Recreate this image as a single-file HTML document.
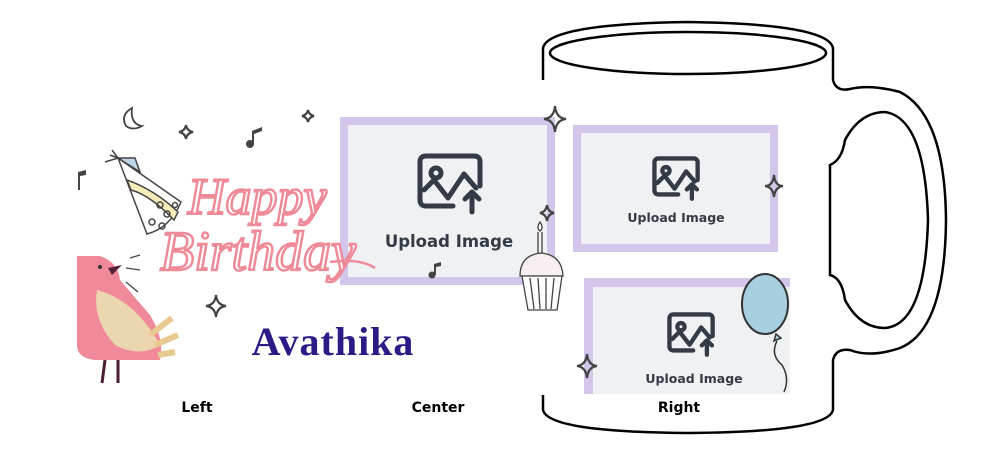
<!DOCTYPE html>
<html><head><meta charset="utf-8"><style>
html,body{margin:0;padding:0;background:#fff;width:1000px;height:457px;overflow:hidden}
svg{display:block}
</style></head><body>
<svg width="1000" height="457" viewBox="0 0 1000 457" xmlns="http://www.w3.org/2000/svg">
<g fill="none" stroke="#000" stroke-width="2.5">
<path d="M543,80 L543,48 Q548,24 688,22 Q828,24 833,48 L833,80 Q836,92 850,89 Q870,84 900,92 Q945,115 946,220 Q945,330 900,348 Q870,358 850,350 Q836,348 833,360 L833,410 Q828,432 688,433 Q548,432 543,410 L543,395"/>
<ellipse cx="688" cy="53" rx="138" ry="21"/>
<path d="M830,165 Q842,160 845,140 Q860,112 885,112 Q925,118 928,220 Q925,325 885,328 Q860,328 845,300 Q842,278 830,275 Z"/>
</g>
<rect x="344" y="121" width="207" height="160" fill="#eff1f3" stroke="#d4c5ea" stroke-width="8"/>
<rect x="577" y="129" width="197" height="119" fill="#eff1f3" stroke="#d4c5ea" stroke-width="8"/>
<rect x="584" y="278" width="206" height="116" fill="#d4c5ea"/>
<rect x="593" y="287" width="197" height="107" fill="#eff1f3"/>
<g fill="none" stroke="#343a46" stroke-width="5" stroke-linecap="round" stroke-linejoin="round">
<g transform="translate(418,154)">
<path d="M35,52 H8 Q2,52 2,46 V8 Q2,2 8,2 H56 Q62,2 62,8 V32"/>
<circle cx="18" cy="19" r="5"/>
<path d="M6,36 L16,26 L30,44 L46,20 L58,34 M54,58 V38 M47,45 L54,38 L61,45"/>
</g>
<g transform="translate(653,157) scale(0.72)" stroke-width="6">
<path d="M35,52 H8 Q2,52 2,46 V8 Q2,2 8,2 H56 Q62,2 62,8 V32"/>
<circle cx="18" cy="19" r="5"/>
<path d="M6,36 L16,26 L30,44 L46,20 L58,34 M54,58 V38 M47,45 L54,38 L61,45"/>
</g>
<g transform="translate(668,313) scale(0.72)" stroke-width="6">
<path d="M35,52 H8 Q2,52 2,46 V8 Q2,2 8,2 H56 Q62,2 62,8 V32"/>
<circle cx="18" cy="19" r="5"/>
<path d="M6,36 L16,26 L30,44 L46,20 L58,34 M54,58 V38 M47,45 L54,38 L61,45"/>
</g>
</g>
<g font-family="DejaVu Sans, Liberation Sans, sans-serif" font-weight="bold" fill="#343a46">
<text x="449" y="247" font-size="16.5" text-anchor="middle">Upload Image</text>
<text x="676" y="222" font-size="12.5" text-anchor="middle">Upload Image</text>
<text x="694" y="383" font-size="12.5" text-anchor="middle">Upload Image</text>
</g>
<ellipse cx="765" cy="304" rx="23" ry="30" fill="#a8cfdf" stroke="#333" stroke-width="2"/>
<path d="M776,334 L781,338 L774,341 Z" fill="#a8cfdf" stroke="#333" stroke-width="1.5"/>
<path d="M777,341 Q770,355 782,365 Q790,378 784,392" fill="none" stroke="#333" stroke-width="1.5"/>
<g stroke="#444" stroke-width="1.3" fill="#fff">
<path d="M520,276 Q520,255 541,253 Q562,255 563,276 Z" fill="#f6eef0"/>
<path d="M522,276 L528,310 L557,310 L562,276 Z"/>
<path d="M530,278 L534,309 M538,278 L540,309 M546,278 L546,309 M554,278 L551,309" fill="none"/>
<path d="M538,253 V232 M542,253 V232" fill="none"/>
<path d="M540,222 Q536,228 540,231 Q544,228 540,222 Z"/>
</g>
<g fill="none" stroke="#444" stroke-width="2.2">
<path d="M555,106 Q556,118 566,119 Q556,120 555,132 Q554,120 544,119 Q554,118 555,106Z"/>
<path d="M774,175 Q775,186 783,186 Q775,187 774,197 Q773,187 765,186 Q773,186 774,175Z"/>
<path d="M587,354 Q588,365 597,366 Q588,367 587,378 Q586,367 577,366 Q586,365 587,354Z"/>
<path d="M547,205 Q548,212 554,213 Q548,214 547,221 Q546,214 540,213 Q546,212 547,205Z"/>
<path d="M216,295 Q217,305 226,306 Q217,307 216,317 Q215,307 206,306 Q215,305 216,295Z"/>
<path d="M186,125 Q187,131 193,132 Q187,133 186,139 Q185,133 179,132 Q185,131 186,125Z"/>
<path d="M308,110 Q309,115 314,116 Q309,117 308,122 Q307,117 302,116 Q307,115 308,110Z"/>
<path d="M132,108 Q120,115 126,126 Q133,131 142,126 Q130,124 132,108Z" stroke-width="1.8"/>
</g>
<g fill="#444">
<circle cx="250" cy="144" r="4"/><path d="M252,144 V131 L262,127 V131 L254,134 V144Z"/>
<circle cx="432" cy="275" r="3.5"/><path d="M434,275 V264 L441,262 V266 L436,267 V275Z"/>
<path d="M78,190 V172 L86,170 V175 L80,176 V190Z"/>
</g>
<g stroke="#444" stroke-width="1.5">
<path d="M118,158 L181,202 Q170,228 147,234 Z" fill="#fff"/>
<path d="M131,190 Q150,195 174,220 L178,212 Q155,190 127,180Z" fill="#f6ecb9"/>
<path d="M118,158 L135,158 L140,172Z" fill="#bcd8e6"/>
<path d="M110,155 L118,158 M105,162 L118,158 M112,150 L118,158" fill="none"/>
<circle cx="160" cy="205" r="3" fill="none"/><circle cx="167" cy="214" r="3" fill="none"/><circle cx="152" cy="222" r="3" fill="none"/><circle cx="162" cy="226" r="3" fill="none"/><circle cx="175" cy="205" r="2.5" fill="none"/>
</g>
<g font-family="Liberation Serif, serif" font-style="italic" fill="none" stroke="#ef8a99" stroke-width="2.5">
<text x="188" y="214" font-size="52" fill="#fff">Happy</text>
<text x="160" y="270" font-size="56" fill="#fff">Birthday</text>
</g>
<path d="M330,262 Q360,258 375,268" fill="none" stroke="#ef8a99" stroke-width="2.5"/>
<path d="M77,256 L100,256 Q118,262 120,280 L150,315 Q165,340 160,360 L95,360 Q77,358 77,345 Z" fill="#f0899a"/>
<path d="M97,290 Q135,300 160,345 Q140,358 115,345 Q92,320 97,290Z" fill="#ecd6b0"/>
<path d="M150,335 L172,318 M155,345 L178,335 M158,355 L175,352" stroke="#e8c98f" stroke-width="6"/>
<path d="M108,268 L122,265 L112,275Z" fill="#5a1f3a"/>
<circle cx="100" cy="267" r="2" fill="#333"/>
<path d="M105,360 L102,383 M118,360 L118,383" stroke="#4a1f34" stroke-width="3"/>
<path d="M126,268 L140,270 M126,282 L138,292 M130,258 L140,255" stroke="#444" stroke-width="1.3"/>
<text x="333" y="355" font-family="Liberation Serif, serif" font-weight="bold" font-size="40" letter-spacing="1" fill="#2e1a87" text-anchor="middle">Avathika</text>
<g font-family="DejaVu Sans, Liberation Sans, sans-serif" font-weight="bold" font-size="14" fill="#000" text-anchor="middle">
<text x="197" y="412">Left</text>
<text x="438" y="412">Center</text>
<text x="679" y="412">Right</text>
</g>
</svg>
</body></html>
